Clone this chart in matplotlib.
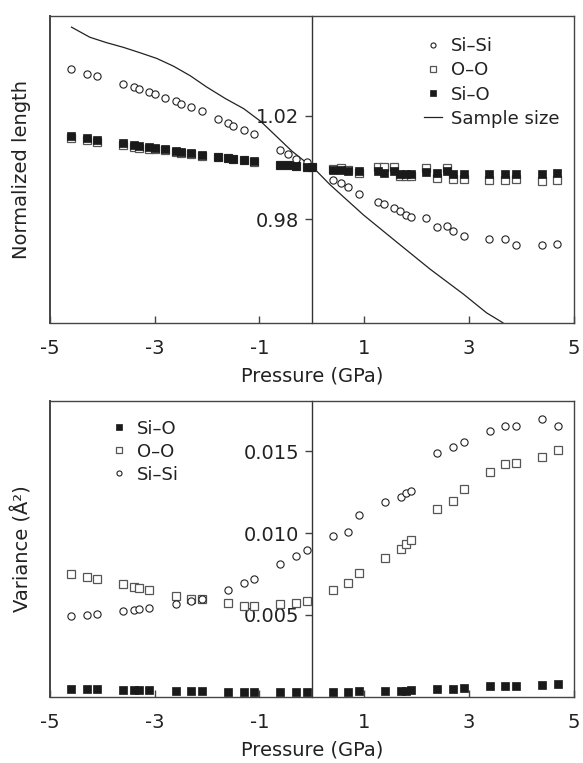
import matplotlib
matplotlib.use("Agg")
import matplotlib.pyplot as plt

plt.rcParams["font.family"] = ["DejaVu Sans"]

# ---- top panel: normalized bond length vs pressure ----------------------
P_TOP = [-4.6, -4.3, -4.1, -3.6, -3.4, -3.3, -3.1, -3.0, -2.8, -2.6, -2.5,
         -2.3, -2.1, -1.8, -1.6, -1.5, -1.3, -1.1, -0.6, -0.45, -0.3, -0.1, 0.0,
         0.4, 0.55, 0.7, 0.9, 1.27, 1.38, 1.57, 1.69, 1.8, 1.9, 2.18, 2.39,
         2.58, 2.69, 2.9, 3.38, 3.7, 3.9, 4.4, 4.68]
SISI_TOP = [1.0381, 1.0362, 1.0352, 1.0321, 1.0311, 1.0304, 1.0291, 1.0282,
            1.0269, 1.0256, 1.0245, 1.0235, 1.0218, 1.0188, 1.0173, 1.0159,
            1.0145, 1.0128, 1.0066, 1.0050, 1.0033, 1.0022, 1.0000,
            0.9950, 0.9938, 0.9923, 0.9898, 0.9868, 0.9857, 0.9844, 0.9830,
            0.9818, 0.9809, 0.9803, 0.9769, 0.9773, 0.9753, 0.9736, 0.9725,
            0.9722, 0.9701, 0.9702, 0.9706]
OO_TOP = [1.0113, 1.0105, 1.0100, 1.0087, 1.0080, 1.0075, 1.0072, 1.0071,
          1.0067, 1.0059, 1.0057, 1.0052, 1.0046, 1.0040, 1.0036, 1.0032,
          1.0028, 1.0022, 1.0011, 1.0009, 1.0005, 1.0002, 1.0000,
          0.9995, 0.9998, 0.9991, 0.9979, 1.0001, 1.0001, 1.0001, 0.9968,
          0.9968, 0.9968, 0.9998, 0.9959, 0.9998, 0.9956, 0.9955, 0.9952,
          0.9952, 0.9956, 0.9948, 0.9951]
SIO_TOP = [1.0122, 1.0114, 1.0107, 1.0093, 1.0085, 1.0081, 1.0077, 1.0075,
           1.0070, 1.0063, 1.0061, 1.0054, 1.0048, 1.0041, 1.0037, 1.0033,
           1.0029, 1.0023, 1.0011, 1.0009, 1.0005, 1.0002, 1.0000,
           0.9989, 0.9991, 0.9988, 0.9986, 0.9986, 0.9980, 0.9985, 0.9976,
           0.9976, 0.9976, 0.9982, 0.9979, 0.9985, 0.9976, 0.9976, 0.9975,
           0.9976, 0.9976, 0.9976, 0.9979]

# sample size curve
P_SAMPLE = [-4.59, -4.24, -3.92, -3.60, -3.28, -2.96, -2.64, -2.32, -2.01,
            -1.65, -1.30, -0.97, -0.38, -0.10, 0.0, 0.35, 0.99, 1.62, 2.26,
            2.90, 3.34, 3.65]
SAMPLE = [1.0542, 1.0503, 1.0482, 1.0464, 1.0443, 1.0421, 1.0391, 1.0354,
          1.0311, 1.0266, 1.0227, 1.0177, 1.0063, 1.0018, 1.0005, 0.9933,
          0.9816, 0.9712, 0.9607, 0.9510, 0.9438, 0.9400]

# ---- bottom panel: variance vs pressure ---------------------------------
P_BOT = [-4.6, -4.3, -4.1, -3.6, -3.4, -3.3, -3.1, -2.6, -2.3, -2.1, -1.6,
         -1.3, -1.1, -0.6, -0.3, -0.1,
         0.4, 0.7, 0.9, 1.4, 1.7, 1.8, 1.9, 2.4, 2.7, 2.9, 3.4, 3.7, 3.9,
         4.4, 4.7]
SISI_BOT = [0.00494, 0.00500, 0.00508, 0.00525, 0.00533, 0.00535, 0.00543,
            0.00567, 0.00583, 0.00600, 0.00654, 0.00697, 0.00719, 0.00813,
            0.00863, 0.00894,
            0.00983, 0.01009, 0.01109, 0.01190, 0.01222, 0.01243, 0.01259,
            0.01490, 0.01525, 0.01555, 0.01624, 0.01653, 0.01654, 0.01697,
            0.01657]
OO_BOT = [0.00750, 0.00729, 0.00717, 0.00687, 0.00673, 0.00665, 0.00650,
          0.00614, 0.00595, 0.00600, 0.00573, 0.00557, 0.00553, 0.00565,
          0.00573, 0.00583,
          0.00650, 0.00695, 0.00758, 0.00851, 0.00902, 0.00936, 0.00957,
          0.01149, 0.01198, 0.01271, 0.01373, 0.01420, 0.01429, 0.01468,
          0.01511]
SIO_BOT = [0.00050, 0.00046, 0.00046, 0.00040, 0.00040, 0.00040, 0.00038,
           0.00033, 0.00033, 0.00032, 0.00028, 0.00028, 0.00028, 0.00028,
           0.00028, 0.00028,
           0.00030, 0.00030, 0.00033, 0.00035, 0.00035, 0.00035, 0.00038,
           0.00048, 0.00048, 0.00054, 0.00063, 0.00065, 0.00067, 0.00071,
           0.00079]

X_TICKS = [-5, -3, -1, 1, 3, 5]
Y_TICKS_TOP = [0.98, 1.02]
Y_TICKS_BOT = [0.005, 0.010, 0.015]

FRAME = "#444444"
TXT = "#222222"


def style_axes(ax, ylim, yticks, yfmt):
    ax.set_xlim(-5, 5)
    ax.set_ylim(*ylim)
    for s in ax.spines.values():
        s.set_color(FRAME)
        s.set_linewidth(1.0)
    # y axis crosses at pressure 0
    ax.spines["left"].set_position(("data", 0))
    ax.spines["left"].set_color("#333333")
    # keep the plot-area border on the left side
    ax.axvline(-5, color=FRAME, lw=1.4, clip_on=False, zorder=5)
    ax.set_xticks(X_TICKS)
    ax.set_xticklabels([str(t) for t in X_TICKS])
    ax.set_yticks(yticks)
    ax.set_yticklabels([yfmt.format(t) for t in yticks])
    ax.tick_params(axis="x", direction="in", length=5, width=1, color=FRAME,
                   labelsize=14, pad=12, labelcolor=TXT)
    ax.tick_params(axis="y", direction="out", length=5, width=1, color=FRAME,
                   labelsize=14, pad=4, labelcolor=TXT)
    ax.set_xlabel("Pressure (GPa)", fontsize=14, color=TXT, labelpad=6)


fig = plt.figure(figsize=(5.83, 7.63), dpi=100)
W, H = 583.0, 763.0
ax1 = fig.add_axes([50 / W, 1 - 322.7 / H, 523.5 / W, 306.7 / H])
ax2 = fig.add_axes([50 / W, 1 - 696.7 / H, 523.5 / W, 296.0 / H])

# top panel
ax1.plot(P_TOP, OO_TOP, "s", ms=5.2, mfc="white", mec="#555555", mew=0.9,
         ls="none", label="O\u2013O", zorder=3)
ax1.plot(P_TOP, SIO_TOP, "s", ms=5.6, mfc="#1a1a1a", mec="#1a1a1a", mew=0.5,
         ls="none", label="Si\u2013O", zorder=4)
ax1.plot(P_TOP, SISI_TOP, "o", ms=5.2, mfc="white", mec="#222222", mew=0.8,
         ls="none", label="Si\u2013Si", zorder=3)
ax1.plot(P_SAMPLE, SAMPLE, "-", color="#222222", lw=0.9,
         label="Sample size", zorder=2)
style_axes(ax1, (0.94, 1.0585), Y_TICKS_TOP, "{:.2f}")

h, l = ax1.get_legend_handles_labels()
order = [2, 0, 1, 3]
ax1.legend([h[i] for i in order], [l[i] for i in order],
           loc="upper left", bbox_to_anchor=(0.69, 0.972), frameon=False,
           fontsize=13, markerscale=0.7, handlelength=1.0, handletextpad=0.5,
           labelspacing=0.34, borderpad=0.2, labelcolor=TXT)

# bottom panel
ax2.plot(P_BOT, SIO_BOT, "s", ms=5.6, mfc="#1a1a1a", mec="#1a1a1a", mew=0.5,
         ls="none", label="Si\u2013O", zorder=4)
ax2.plot(P_BOT, OO_BOT, "s", ms=5.2, mfc="white", mec="#555555", mew=0.9,
         ls="none", label="O\u2013O", zorder=3)
ax2.plot(P_BOT, SISI_BOT, "o", ms=5.2, mfc="white", mec="#222222", mew=0.8,
         ls="none", label="Si\u2013Si", zorder=3)
style_axes(ax2, (0.0, 0.0181), Y_TICKS_BOT, "{:.3f}")
ax2.legend(loc="upper left", bbox_to_anchor=(0.091, 0.979), frameon=False,
           fontsize=13, markerscale=0.7, handlelength=1.0, handletextpad=0.5,
           labelspacing=0.28, borderpad=0.2, labelcolor=TXT)

fig.text(22 / W, 1 - 169.5 / H, "Normalized length", rotation=90,
         ha="center", va="center", fontsize=14, color=TXT)
fig.text(22 / W, 1 - 548.7 / H, "Variance (\u00c5\u00b2)", rotation=90,
         ha="center", va="center", fontsize=14, color=TXT)

fig.savefig("out.png", dpi=100)
